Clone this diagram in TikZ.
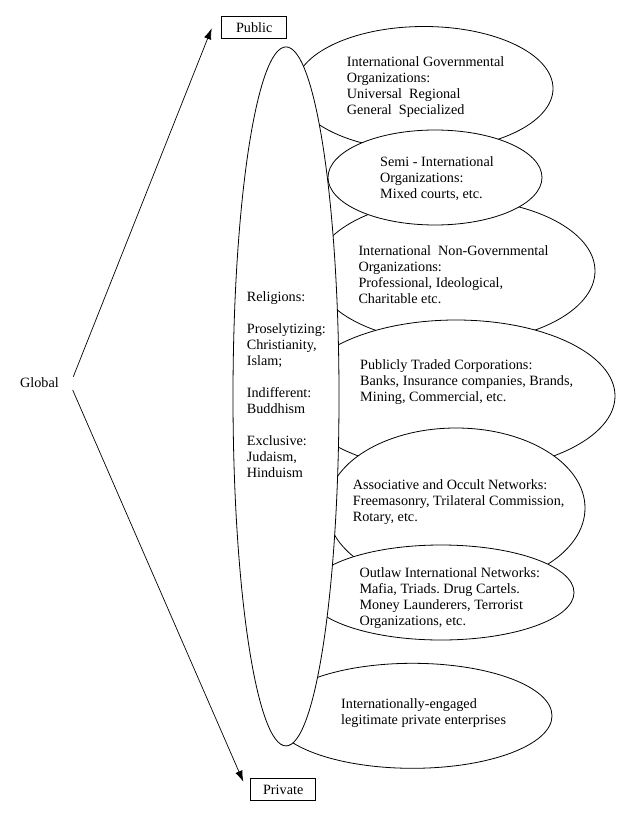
\documentclass[tikz,border=0pt]{standalone}
\usepackage{fontspec}
\setmainfont{Liberation Serif}
\usetikzlibrary{shapes.geometric,arrows.meta}
\begin{document}
\begin{tikzpicture}[x=1pt,y=-1pt,
  bub/.style={ellipse, draw, fill=white, line width=0.8pt, inner sep=0pt},
  txt/.style={inner sep=0pt, align=left, anchor=west, font=\fontsize{14.2}{16}\selectfont},
  lbl/.style={draw, line width=0.8pt, minimum width=65pt, minimum height=21.5pt, inner sep=0pt, font=\fontsize{14.2}{16}\selectfont},
  arr/.style={line width=0.7pt, -{Latex[length=11pt,width=7.5pt]}}]
\useasboundingbox (0,0) rectangle (640,819);
\fill[white] (0,0) rectangle (640,819);
% right-hand ellipses
\node[bub, minimum width=258pt, minimum height=124pt] (igo) at (424,88.5) {};
\node[bub, minimum width=280pt, minimum height=144pt] (ingo) at (455,271) {};
\node[bub, minimum width=214pt, minimum height=95pt] (semi) at (435,177.5) {};
\node[bub, minimum width=318pt, minimum height=152pt] (ptc) at (456,396) {};
\node[bub, minimum width=258pt, minimum height=160pt] (aon) at (456,508) {};
\node[bub, minimum width=266pt, minimum height=95pt] (oin) at (441,592.5) {};
\node[bub, minimum width=279pt, minimum height=105pt] (iel) at (412.5,715.8) {};
% big ellipse
\node[bub, minimum width=106pt, minimum height=699pt] (rel) at (286,396.4) {};
% texts
\node[txt] (igoT) at (346.7,87) {International Governmental\\Organizations:\\Universal\ \ Regional\\General\ \ Specialized};
\node[txt] (semiT) at (380,178.5) {Semi - International\\Organizations:\\Mixed courts, etc.};
\node[txt] (ingoT) at (358.3,274.5) {International\ \ Non-Governmental\\Organizations:\\Professional, Ideological,\\Charitable etc.};
\node[txt] (ptcT) at (360,381.7) {Publicly Traded Corporations:\\Banks, Insurance companies, Brands,\\Mining, Commercial, etc.};
\node[txt] (aonT) at (352.7,501.7) {Associative and Occult Networks:\\Freemasonry, Trilateral Commission,\\Rotary, etc.};
\node[txt] (oinT) at (359.3,598.5) {Outlaw International Networks:\\Mafia, Triads.\ Drug Cartels.\\Money Launderers, Terrorist\\Organizations, etc.};
\node[txt] (ielT) at (341,713.2) {Internationally-engaged\\legitimate private enterprises};
\node[txt] (relT) at (246.7,384.5) {Religions:\\[16pt]Proselytizing:\\Christianity,\\Islam;\\[16pt]Indifferent:\\Buddhism\\[16pt]Exclusive:\\Judaism,\\Hinduism};
% labels
\node[txt, anchor=center] (global) at (39.5,383) {Global};
\node[lbl] (public) at (254.2,27.5) {Public};
\node[lbl] (private) at (283.2,789.5) {Private};
\coordinate (gu) at (73.3,376.7);
\coordinate (gd) at (72.7,390);
\coordinate (pubtip) at (211.7,28.3);
\coordinate (privtip) at (243.3,781.7);
\draw[arr] (gu) -- (pubtip);
\draw[arr] (gd) -- (privtip);
\end{tikzpicture}
\end{document}
